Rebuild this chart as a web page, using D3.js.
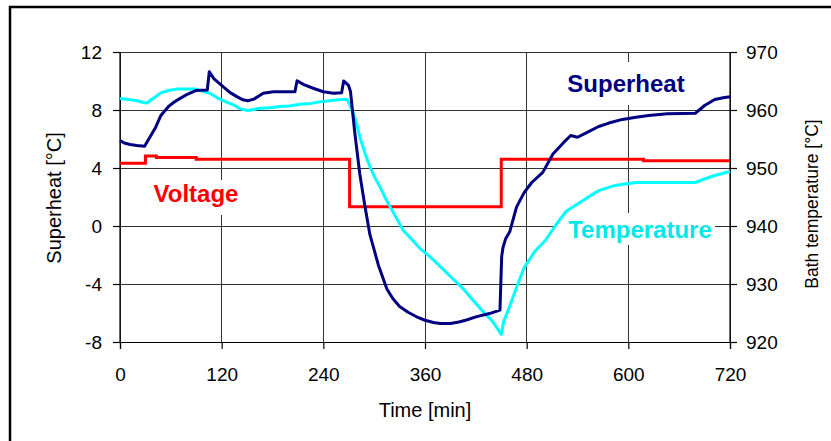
<!DOCTYPE html>
<html>
<head>
<meta charset="utf-8">
<script src="https://cdn.jsdelivr.net/npm/d3@7"></script>
<style>
  html, body { margin: 0; padding: 0; background: #fff; }
  svg { display: block; font-family: "Liberation Sans", Arial, sans-serif; }
</style>
</head>
<body>
<svg id="chart" width="831" height="441"></svg>
<script>
// ---- Data ----
const xTicks = [0, 120, 240, 360, 480, 600, 720];
const leftTicks = [-8, -4, 0, 4, 8, 12];
const rightTicks = [920, 930, 940, 950, 960, 970];

const superheatTime = [0, 5, 12, 20, 29, 34, 42, 48, 57, 64, 71, 80, 90, 103, 105.4, 111, 122, 130, 138, 145, 151, 158, 169, 181, 206.5, 209, 217, 228, 240, 252, 261.6, 264, 269.5, 272, 277, 283, 289, 295, 305, 315, 322, 330, 340, 350, 360, 370, 378, 390, 400, 409, 420, 436, 448.5, 450.5, 452, 455, 460, 468, 477, 486, 499, 511, 524, 532, 540, 552, 565, 577, 593, 609, 624, 646, 679, 690, 702, 712, 720];
const superheatValue = [5.9, 5.72, 5.62, 5.55, 5.5, 6.0, 6.8, 7.6, 8.23, 8.55, 8.8, 9.1, 9.35, 9.38, 10.64, 10.15, 9.6, 9.2, 8.92, 8.7, 8.64, 8.75, 9.15, 9.26, 9.26, 10.02, 9.75, 9.5, 9.26, 9.15, 9.19, 10.0, 9.72, 9.3, 6.5, 3.6, 1.4, -0.6, -2.7, -4.35, -5.0, -5.55, -5.95, -6.26, -6.5, -6.65, -6.72, -6.72, -6.62, -6.48, -6.27, -6.04, -5.8, -2.1, -1.5, -0.9, -0.4, 1.3, 2.3, 3.0, 3.7, 4.97, 5.78, 6.24, 6.12, 6.47, 6.86, 7.1, 7.35, 7.5, 7.62, 7.74, 7.77, 8.31, 8.73, 8.85, 8.92];

const tempTime = [0, 10, 20, 28, 32, 38, 49, 58, 67, 78, 90, 98, 106, 115, 125, 134, 142, 151, 158, 165, 177, 189, 200, 212, 224, 236, 252, 261, 268, 271, 278, 283, 289, 295, 301, 307, 315, 325, 334, 345, 355, 365, 374, 390, 405, 413, 425, 440, 450, 453, 458, 468, 477, 490, 502, 515, 527, 540, 552, 565, 584, 609, 640, 679, 690, 702, 720];
const tempValue = [962.0, 961.8, 961.6, 961.3, 961.2, 961.9, 963.0, 963.4, 963.6, 963.6, 963.6, 963.2, 962.9, 962.1, 961.4, 960.9, 960.2, 959.9, 960.1, 960.3, 960.4, 960.6, 960.7, 961.0, 961.1, 961.4, 961.7, 961.8, 961.8, 961.0, 958.3, 955.4, 952.6, 950.2, 948.3, 946.7, 944.3, 941.7, 939.3, 937.6, 936.0, 934.8, 933.6, 931.3, 929.2, 927.8, 925.8, 923.5, 921.3, 923.6, 925.4, 929.4, 932.8, 935.7, 937.5, 940.3, 942.6, 943.8, 944.9, 946.1, 947.0, 947.5, 947.5, 947.5, 948.1, 948.7, 949.4];

const voltageTime = [0, 30, 43, 90, 271, 450, 618, 720];
const voltageValue = [4.32, 4.83, 4.72, 4.6, 1.33, 4.6, 4.5, 4.5];

// ---- Layout ----
const svg = d3.select("#chart");
const x = d3.scaleLinear().domain([0, 720]).range([120, 730]);
const yL = d3.scaleLinear().domain([-8, 12]).range([342, 52]);
const yR = d3.scaleLinear().domain([920, 970]).range([342, 52]);

// outer frame
svg.append("rect").attr("x", 10).attr("y", 7).attr("width", 900).attr("height", 600)
  .attr("fill", "#fff").attr("stroke", "#000").attr("stroke-width", 2.5);

// grid
const grid = svg.append("g").attr("stroke", "#333").attr("stroke-width", 1).attr("shape-rendering", "crispEdges");
grid.selectAll("line.h").data(leftTicks).join("line")
  .attr("x1", x(0)).attr("x2", x(720)).attr("y1", d => yL(d)).attr("y2", d => yL(d));
grid.selectAll("line.v").data(xTicks).join("line")
  .attr("y1", yL(-8)).attr("y2", yL(12)).attr("x1", d => x(d)).attr("x2", d => x(d));

// white boxes behind series labels
const boxes = [
  {x: 560, y: 62, w: 133, h: 43},
  {x: 554, y: 213, w: 161, h: 32},
  {x: 145, y: 180, w: 100, h: 35}
];
svg.append("g").selectAll("rect").data(boxes).join("rect")
  .attr("x", d => d.x).attr("y", d => d.y).attr("width", d => d.w).attr("height", d => d.h)
  .attr("fill", "#fff");

// axes
const fs = "19px";
const fmt = d => String(d);
const axL = svg.append("g").attr("transform", `translate(${x(0)},0)`)
  .call(d3.axisLeft(yL).tickValues(leftTicks).tickSize(7).tickPadding(11).tickFormat(fmt));
const axR = svg.append("g").attr("transform", `translate(${x(720)},0)`)
  .call(d3.axisRight(yR).tickValues(rightTicks).tickSize(7).tickPadding(9).tickFormat(fmt));
const axB = svg.append("g").attr("transform", `translate(0,${yL(-8)})`)
  .call(d3.axisBottom(x).tickValues(xTicks).tickSize(7).tickPadding(19).tickFormat(fmt));
[axL, axR, axB].forEach(a => {
  a.select(".domain").attr("stroke", "#000").attr("stroke-width", 1.2);
  a.selectAll(".tick line").attr("stroke", "#000").attr("stroke-width", 1.2);
  a.selectAll("text").attr("font-size", fs).attr("fill", "#000")
    .attr("font-family", "'Liberation Sans', Arial, sans-serif");
});
axL.select(".domain").attr("d", `M0,${yL(12)}V${yL(-8)}`);
axR.select(".domain").attr("d", `M0,${yL(12)}V${yL(-8)}`);

// lines
const lineL = d3.line().x(d => x(d[0])).y(d => yL(d[1]));
const lineR = d3.line().x(d => x(d[0])).y(d => yR(d[1]));
const voltData = voltageTime.map((t, i) => [t, voltageValue[i]]);
const tempData = tempTime.map((t, i) => [t, tempValue[i]]);
const shData = superheatTime.map((t, i) => [t, superheatValue[i]]);

svg.append("path").datum(voltData)
  .attr("d", d3.line().curve(d3.curveStepAfter).x(d => x(d[0])).y(d => yL(d[1])))
  .attr("fill", "none").attr("stroke", "#ff0000").attr("stroke-width", 3);
svg.append("path").datum(tempData).attr("d", lineR)
  .attr("fill", "none").attr("stroke", "#00ffff").attr("stroke-width", 3).attr("stroke-linejoin", "round");
svg.append("path").datum(shData).attr("d", lineL)
  .attr("fill", "none").attr("stroke", "#000080").attr("stroke-width", 3).attr("stroke-linejoin", "round");

// series labels
const labels = [
  {text: "Superheat", x: 626, y: 92, c: "#000080"},
  {text: "Temperature", x: 640, y: 238, c: "#00e8e8"},
  {text: "Voltage", x: 196, y: 202, c: "#ff0000"}
];
svg.append("g").selectAll("text").data(labels).join("text")
  .attr("x", d => d.x).attr("y", d => d.y).attr("text-anchor", "middle")
  .attr("font-size", "24px").attr("font-weight", "bold").attr("fill", d => d.c)
  .text(d => d.text);

// axis titles
svg.append("text").attr("transform", "translate(61,198) rotate(-90)")
  .attr("text-anchor", "middle").attr("font-size", "20px").text("Superheat [°C]");
svg.append("text").attr("transform", "translate(818,204) rotate(-90)")
  .attr("text-anchor", "middle").attr("font-size", "17.5px").text("Bath temperature [°C]");
svg.append("text").attr("x", 425).attr("y", 417)
  .attr("text-anchor", "middle").attr("font-size", "20px").text("Time [min]");
</script>
</body>
</html>
